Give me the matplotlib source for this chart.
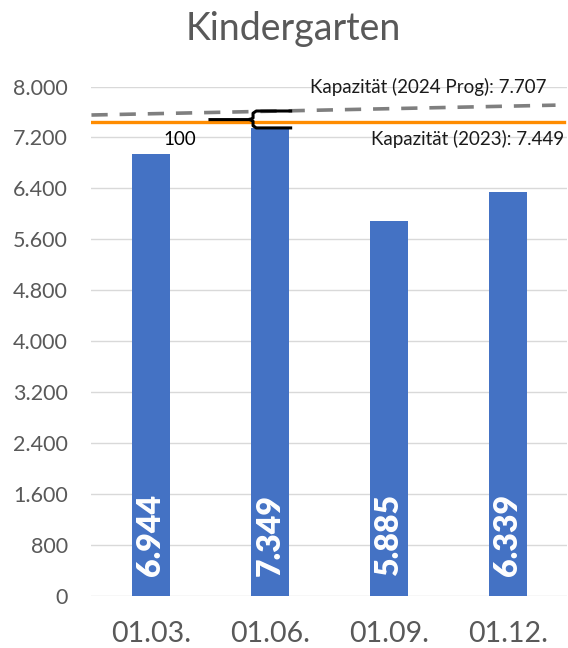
import matplotlib
matplotlib.use("Agg")
import matplotlib.pyplot as plt
import numpy as np

plt.rcParams['font.family'] = ['Lato', 'DejaVu Sans']

# data
dates = ['01.03.', '01.06.', '01.09.', '01.12.']
kinder = [6944, 7349, 5885, 6339]
kap_2023 = 7449
kap_2024_start = 7552
kap_2024 = 7707
gap_label = '100'

def de_fmt(v):
    return f'{int(v):,}'.replace(',', '.')

fig = plt.figure(figsize=(5.68, 6.48), dpi=100)
ax = fig.add_axes([0.161, 0.081, 0.838, 0.7855])

x = np.arange(len(dates))
ax.bar(x, kinder, width=0.325, color='#4472C4', zorder=2)

for xi, v in zip(x, kinder):
    ax.text(xi, 300, de_fmt(v), rotation=90, ha='center', va='bottom',
            color='white', fontsize=23, fontweight='heavy', zorder=3)

# capacity lines
ax.axhline(kap_2023, xmin=0, xmax=0.992, color='#FF8C00', lw=2.4, zorder=4)
ax.plot([-0.5, 3.4], [kap_2024_start, kap_2024], color='#7F7F7F', lw=2.6,
        dashes=(4.5, 3.3), zorder=3)

ax.text(3.32, 7990, 'Kapazität (2024 Prog): ' + de_fmt(kap_2024), ha='right',
        va='center', fontsize=13.5, color='#1a1a1a', zorder=5)
ax.text(3.47, 7170, 'Kapazität (2023): ' + de_fmt(kap_2023), ha='right',
        va='center', fontsize=13.5, color='#1a1a1a', zorder=5)

# brace marking the gap between bar and capacity
top, mid, bot = 7615, 7480, 7349
ax.plot([1.174, 0.885, 0.858, 0.858, 0.83, 0.496],
        [top, top, top - 35, mid + 25, mid, mid], color='black', lw=2.2,
        solid_joinstyle='round', zorder=6)
ax.plot([0.83, 0.858, 0.858, 0.885, 1.174],
        [mid, mid - 25, bot + 35, bot, bot], color='black', lw=2.2,
        solid_joinstyle='round', zorder=6)
ax.text(0.245, 7170, gap_label, ha='center', va='center', fontsize=13.5,
        color='black', zorder=5)

ax.set_xlim(-0.5, 3.5)
ax.set_ylim(0, 8000)
ax.set_yticks(np.arange(0, 8001, 800))
ax.set_yticklabels([de_fmt(t) for t in np.arange(0, 8001, 800)])
ax.set_xticks(x)
ax.set_xticklabels(dates)
ax.tick_params(axis='y', length=0, pad=17, labelsize=15.5, labelcolor='#595959')
ax.tick_params(axis='x', length=0, pad=18, labelsize=20.5, labelcolor='#595959')
ax.grid(axis='y', color='#D9D9D9', lw=1, zorder=0)
ax.set_axisbelow(True)
for s in ax.spines.values():
    s.set_visible(False)

fig.text(0.517, 0.955, 'Kindergarten', ha='center', va='center', fontsize=27,
         color='#595959')

fig.savefig('out.png', dpi=100)
